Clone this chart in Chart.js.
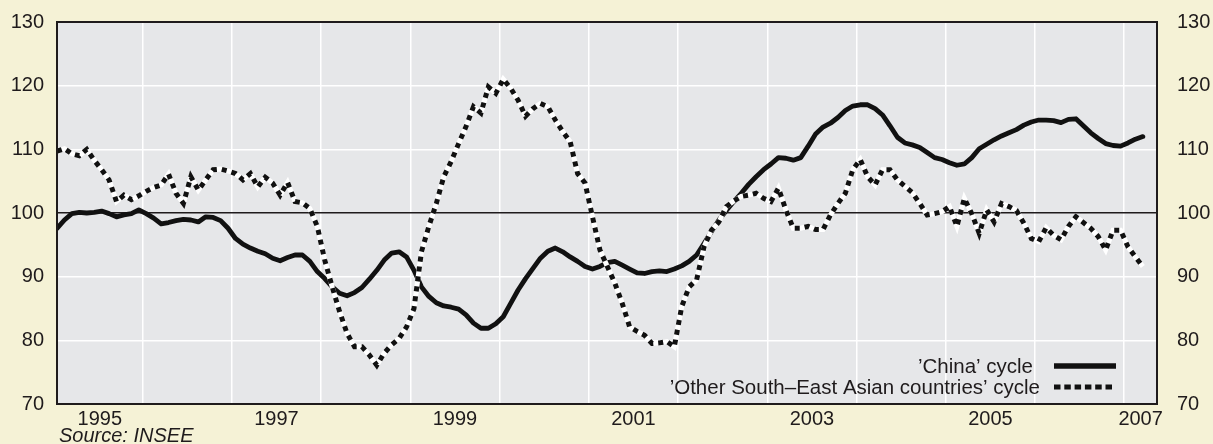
<!DOCTYPE html>
<html><head><meta charset="utf-8">
<script src="https://cdn.jsdelivr.net/npm/chart.js@4.4.1/dist/chart.umd.min.js"></script>
<style>html,body{margin:0;padding:0;background:#f5f2d6;}#wrap{width:1213px;height:444px;position:relative}</style>
</head><body><div id="wrap"><canvas id="c" width="1213" height="444"></canvas></div>
<script>
// Monthly series, starting January 1995
const startYear = 1995;
const china = [
97.6,98.9,99.9,100.1,100.0,100.1,100.3,99.9,99.4,99.7,99.9,100.5,
99.9,99.2,98.3,98.5,98.8,99.0,98.9,98.6,99.4,99.3,98.8,97.6,
96.0,95.1,94.5,94.0,93.6,92.9,92.5,93.0,93.4,93.4,92.4,90.8,
89.7,88.4,87.4,87.0,87.5,88.3,89.6,91.0,92.6,93.7,93.9,93.1,
91.0,88.4,86.9,85.9,85.4,85.2,84.9,84.0,82.7,81.9,81.9,82.6,
83.7,85.8,87.9,89.7,91.3,92.9,94.0,94.5,93.9,93.1,92.4,91.6,
91.2,91.6,92.2,92.4,91.8,91.2,90.6,90.5,90.8,90.9,90.8,91.2,
91.7,92.4,93.4,95.2,97.1,98.9,100.4,101.8,103.1,104.5,105.7,106.8,
107.7,108.7,108.6,108.3,108.7,110.5,112.4,113.5,114.1,115.0,116.1,116.8,
117.0,117.0,116.4,115.4,113.7,111.9,111.0,110.7,110.3,109.5,108.7,108.4,
107.9,107.5,107.7,108.7,110.1,110.8,111.5,112.1,112.6,113.1,113.8,114.3,
114.6,114.6,114.5,114.2,114.7,114.8,113.7,112.6,111.7,110.9,110.6,110.5,
111.0,111.6,112.0
];
const other = [
109.7,110.1,109.3,109.0,110.0,108.3,106.8,105.2,101.8,102.8,102.1,102.7,
103.4,104.0,104.4,106.1,103.1,101.5,105.7,103.6,105.2,106.8,106.9,106.6,
106.2,105.2,106.2,104.1,105.6,104.7,102.8,104.8,101.8,101.6,100.7,97.9,
92.6,88.4,84.5,81.1,79.0,79.0,77.7,76.1,78.0,79.3,80.3,82.1,
85.0,93.9,97.9,101.5,105.7,108.1,110.9,113.6,116.7,115.7,119.8,118.8,
121.0,119.6,117.7,115.2,116.4,117.2,116.7,114.6,112.8,111.2,106.2,104.7,
99.4,94.2,91.6,89.0,85.8,82.1,81.4,80.8,79.5,79.6,79.8,79.0,
85.3,88.4,89.5,94.7,97.3,98.6,101.0,101.9,102.6,102.8,103.1,102.3,
101.8,103.9,100.5,97.6,97.6,97.9,97.4,97.4,99.7,101.5,103.1,106.8,
108.4,105.7,104.4,106.8,106.8,105.2,104.2,103.2,101.5,99.7,99.9,100.2,
101.0,97.9,102.3,99.9,96.8,100.5,98.6,101.5,101.0,100.4,98.4,96.0,
95.5,97.7,96.5,95.8,97.9,99.4,98.5,97.6,96.3,94.2,97.3,97.3,
94.7,93.1,91.6
];
const yTicks = [70, 80, 90, 100, 110, 120, 130];
const yearLabels = ['1995', '1997', '1999', '2001', '2003', '2005', '2007'];
const gridYears = [1996, 1997, 1998, 1999, 2000, 2001, 2002, 2003, 2004, 2005, 2006, 2007];
const seriesNames = ['\u2019China\u2019 cycle', '\u2019Other South\u2013East Asian countries\u2019 cycle'];
const sourceText = 'Source: INSEE';

const TXT = '#1f1b1c';
const FONT = '"Liberation Sans", Arial, Helvetica, sans-serif';
const xMin = startYear + 0.5 / 12;
const xMax = 2007.367;

const toPoints = arr => arr.map((v, i) => ({ x: startYear + (i + 0.5) / 12, y: v }));
const labelPos = yearLabels.map(l => {
  const y = Number(l);
  const lo = Math.max(xMin, y), hi = Math.min(xMax, y + 1);
  return { value: (lo + hi) / 2, label: l };
});

Chart.defaults.font.family = FONT;

const deco = {
  id: 'deco',
  beforeDraw(chart) {
    const { ctx, chartArea: a } = chart;
    ctx.save();
    ctx.fillStyle = '#f5f2d6';
    ctx.fillRect(0, 0, chart.width, chart.height);
    ctx.fillStyle = '#e6e7e9';
    ctx.fillRect(a.left, a.top, a.right - a.left, a.bottom - a.top);
    ctx.restore();
  },
  afterDraw(chart) {
    const { ctx, chartArea: a } = chart;
    ctx.save();
    // frame
    ctx.strokeStyle = TXT;
    ctx.lineWidth = 2;
    ctx.strokeRect(a.left, a.top, a.right - a.left, a.bottom - a.top);
    // legend
    ctx.fillStyle = TXT;
    ctx.font = '20.5px ' + FONT;
    ctx.textAlign = 'right';
    ctx.textBaseline = 'alphabetic';
    ctx.fillText(seriesNames[0], a.right - 124, a.bottom - 31);
    ctx.fillText(seriesNames[1], a.right - 117, a.bottom - 10);
    ctx.lineCap = 'butt';
    ctx.strokeStyle = '#111';
    ctx.lineWidth = 5.5;
    ctx.setLineDash([]);
    ctx.beginPath();
    ctx.moveTo(a.right - 103, a.bottom - 38);
    ctx.lineTo(a.right - 41, a.bottom - 38);
    ctx.stroke();
    ctx.lineWidth = 5;
    ctx.setLineDash([6.5, 3.8]);
    ctx.beginPath();
    ctx.moveTo(a.right - 103, a.bottom - 17);
    ctx.lineTo(a.right - 44, a.bottom - 17);
    ctx.stroke();
    ctx.setLineDash([]);
    // source
    ctx.textAlign = 'left';
    ctx.font = 'italic 20px ' + FONT;
    ctx.fillText(sourceText, 59, 442);
    ctx.restore();
  }
};

const yCommon = {
  min: 70, max: 130,
  afterBuildTicks: s => { s.ticks = yTicks.map(v => ({ value: v })); },
  border: { display: false }
};

new Chart(document.getElementById('c'), {
  type: 'line',
  data: {
    datasets: [
      { label: seriesNames[1], data: toPoints(other), borderColor: '#111', borderWidth: 5,
        borderDash: [5, 5], borderCapStyle: 'butt', pointRadius: 0, tension: 0, yAxisID: 'y' },
      { label: seriesNames[1] + ' (gaps)', data: toPoints(other), borderColor: '#ffffff', borderWidth: 5,
        pointRadius: 0, tension: 0, yAxisID: 'y' },
      { label: seriesNames[0], data: toPoints(china), borderColor: '#111', borderWidth: 4.8,
        borderJoinStyle: 'round', borderCapStyle: 'round', pointRadius: 0, tension: 0, yAxisID: 'y' }
    ]
  },
  options: {
    responsive: false,
    devicePixelRatio: 1,
    animation: false,
    layout: { padding: { top: 22, left: 0, right: 0, bottom: 0 } },
    plugins: { legend: { display: false }, tooltip: { enabled: false } },
    scales: {
      x: {
        type: 'linear', position: 'bottom', min: xMin, max: xMax,
        afterBuildTicks: s => {
          s.ticks = gridYears.map(v => ({ value: v })).concat(labelPos.map(p => ({ value: p.value })))
            .sort((a, b) => a.value - b.value);
        },
        afterFit: s => { s.height = 40; s.paddingLeft = 0; s.paddingRight = 0; },
        ticks: {
          autoSkip: false, maxRotation: 0, minRotation: 0, padding: 3,
          font: { size: 20 }, color: TXT,
          callback: v => { const p = labelPos.find(q => Math.abs(q.value - v) < 1e-6); return p ? p.label : ''; }
        },
        grid: {
          drawTicks: false, lineWidth: 1.5,
          color: ctx => (ctx.tick && gridYears.includes(ctx.tick.value)) ? '#ffffff' : 'rgba(0,0,0,0)'
        },
        border: { display: false }
      },
      y: Object.assign({}, yCommon, {
        position: 'left',
        afterFit: s => { s.width = 57; s.paddingTop = 0; s.paddingBottom = 0; },
        ticks: { padding: 13, font: { size: 20 }, color: TXT },
        grid: {
          drawTicks: false,
          color: ctx => (ctx.tick && ctx.tick.value === 100) ? TXT : '#ffffff',
          lineWidth: ctx => (ctx.tick && ctx.tick.value === 100) ? 1.4 : 1.5
        }
      }),
      y2: Object.assign({}, yCommon, {
        position: 'right',
        afterFit: s => { s.width = 56; s.paddingTop = 0; s.paddingBottom = 0; },
        ticks: { padding: 20, font: { size: 20 }, color: TXT },
        grid: { display: false, drawTicks: false }
      })
    }
  },
  plugins: [deco]
});
</script>
</body></html>
